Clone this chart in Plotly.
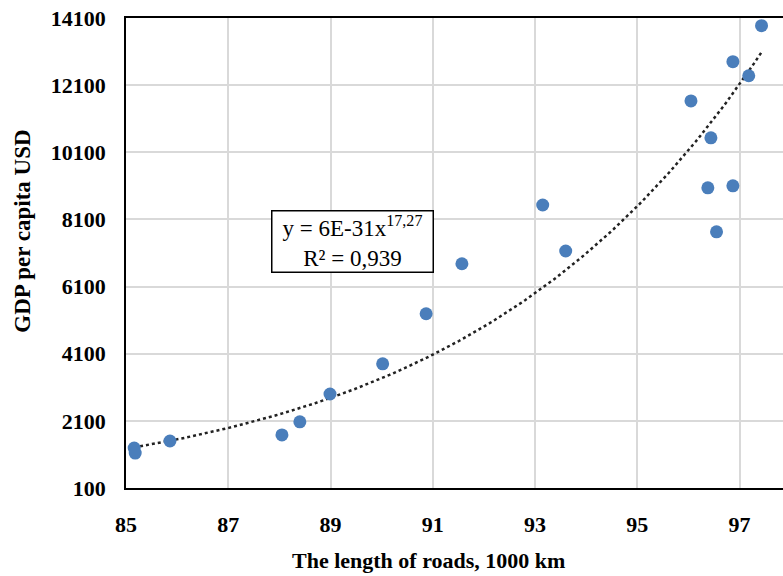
import numpy as np
import plotly.graph_objects as go

# Data
road_length = [85.16, 85.18, 85.86, 88.05, 88.40, 88.99, 90.02, 90.87, 91.57,
               93.15, 93.60, 96.05, 96.44, 96.38, 96.55, 96.87, 96.87, 97.18, 97.43]
gdp_per_capita = [1290, 1140, 1500, 1680, 2070, 2900, 3800, 5290, 6780,
                  8530, 7160, 11630, 10530, 9040, 7730, 9100, 12800, 12380, 13870]

x_ticks = [85, 87, 89, 91, 93, 95, 97]
y_ticks = [100, 2100, 4100, 6100, 8100, 10100, 12100, 14100]

# Power trendline (least squares on log-log, as Excel does)
b, ln_a = np.polyfit(np.log(road_length), np.log(gdp_per_capita), 1)
xt = np.linspace(min(road_length), max(road_length), 200)
yt = np.exp(ln_a) * xt ** b

serif = "Liberation Serif, Times New Roman, serif"

fig = go.Figure()
fig.add_trace(go.Scatter(x=xt, y=yt, mode="lines",
                         line=dict(color="#222222", width=2.5, dash="dot"),
                         hoverinfo="skip", showlegend=False))
fig.add_trace(go.Scatter(x=road_length, y=gdp_per_capita, mode="markers",
                         marker=dict(color="#4a7ebb", size=13),
                         showlegend=False))

fig.update_layout(
    width=783, height=576,
    margin=dict(l=126, r=0, t=18, b=88),
    paper_bgcolor="white", plot_bgcolor="white",
    font=dict(family=serif, color="black"),
    xaxis=dict(range=[85, 97.85], tickvals=x_ticks, showgrid=True,
               gridcolor="#d9d9d9", gridwidth=1.5, showline=True, mirror=True,
               linecolor="black", linewidth=1.5, zeroline=False, automargin=False,
               ticks="", ticklabelstandoff=16, tickformat="d",
               tickfont=dict(family=serif, size=22, color="black", weight="bold")),
    yaxis=dict(range=[100, 14100], tickvals=y_ticks, showgrid=True,
               gridcolor="#d9d9d9", gridwidth=1.5, showline=True, mirror=False,
               linecolor="black", linewidth=1.5, zeroline=False, automargin=False,
               ticks="", ticklabelstandoff=14, tickformat="d",
               tickfont=dict(family=serif, size=22, color="black", weight="bold")),
    annotations=[
        dict(text="<b>The length of roads, 1000 km</b>", xref="paper", yref="paper",
             x=0.46, y=-0.154, xanchor="center", yanchor="middle", showarrow=False,
             font=dict(family=serif, size=22, color="black")),
        dict(text="<b>GDP per capita USD</b>", xref="paper", yref="paper",
             x=-0.157, y=0.547, xanchor="center", yanchor="middle", showarrow=False,
             textangle=-90, font=dict(family=serif, size=23, color="black")),
        dict(text="y = 6E-31x<sup>17,27</sup><br>R² = 0,939", xref="x", yref="y",
             x=89.43, y=7446, xanchor="center", yanchor="middle", showarrow=False,
             align="center", bordercolor="black", borderwidth=1.5, borderpad=1,
             width=158, height=58,
             bgcolor="white", font=dict(family=serif, size=23, color="black")),
    ],
)

fig.write_html("out.html", config={"displayModeBar": False},
               post_script="document.body.style.margin='0';document.body.style.overflow='hidden';")
